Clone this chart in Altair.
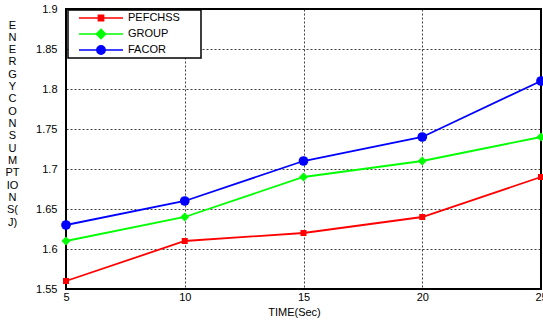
import altair as alt
import pandas as pd

times = [5, 10, 15, 20, 25]
series_names = ["PEFCHSS", "GROUP", "FACOR"]
pefchss = [1.56, 1.61, 1.62, 1.64, 1.69]
group = [1.61, 1.64, 1.69, 1.71, 1.74]
facor = [1.63, 1.66, 1.71, 1.74, 1.81]
y_ticks = [1.55, 1.6, 1.65, 1.7, 1.75, 1.8, 1.85, 1.9]
y_title_lines = ["E", "N", "E", "R", "G", "Y", "C", "O", "N", "S", "U", "M",
                 "PT", "IO", "N", "S(", "J)"]
x_title = "TIME(Sec)"

# styles
colors = ["#ff0000", "#00ff00", "#0000ff"]
marker_shapes = ["square", "diamond", "circle"]
marker_sizes = [36, 80, 95]
legend_paths = [
    "M-1,0H1M-0.12,-0.12H0.12V0.12H-0.12Z",
    "M-1,0H1M0,-0.21L0.21,0L0,0.21L-0.21,0Z",
    "M-1,0H1M0.19,0A0.19,0.19,0,1,1,-0.19,0A0.19,0.19,0,1,1,0.19,0Z",
]
FONT = "Liberation Sans"

rows = []
for name, vals in zip(series_names, [pefchss, group, facor]):
    for t, v in zip(times, vals):
        rows.append({"time": t, "value": v, "series": name})
df = pd.DataFrame(rows)

x = alt.X("time:Q",
          scale=alt.Scale(domain=[5, 25], nice=False, zero=False),
          axis=alt.Axis(values=times, title=x_title, format="d",
                        labelPadding=2, labelFlush=False, titleX=228, titleY=26,
                        titleAlign="center", titleBaseline="alphabetic",
                        titleAnchor="start"))
y = alt.Y("value:Q",
          scale=alt.Scale(domain=[1.55, 1.9], nice=False, zero=False),
          axis=alt.Axis(values=y_ticks, format=".3~g", title=y_title_lines,
                        labelPadding=9, labelFlush=False, titleAngle=0, titleAlign="center",
                        titleBaseline="alphabetic", titleX=-54, titleY=19,
                        titleLineHeight=12.33, titleAnchor="start"))

base = alt.Chart(df)

lines = base.mark_line(strokeWidth=1.8).encode(
    x=x, y=y,
    color=alt.Color("series:N", scale=alt.Scale(domain=series_names, range=colors), legend=None),
)

points = base.mark_point(filled=True, opacity=1).encode(
    x=x, y=y,
    color=alt.Color("series:N", scale=alt.Scale(domain=series_names, range=colors), legend=None),
    shape=alt.Shape("series:N", scale=alt.Scale(domain=series_names, range=marker_shapes), legend=None),
    size=alt.Size("series:N", scale=alt.Scale(type="ordinal", domain=series_names, range=marker_sizes), legend=None),
)

pad = "\u00a0" * 6 + "\u200b"
leg = alt.Legend(
    title=None, orient="none", legendX=2, legendY=1, padding=2,
    clipHeight=12, rowPadding=4, symbolOffset=8, labelOffset=4,
    symbolSize=1936, symbolStrokeWidth=1.5, symbolOpacity=1,
    strokeColor="black", fillColor="white",
    labelFont=FONT, labelFontSize=11, labelColor="black",
    labelExpr="datum.label + '" + pad + "'",
)

legend_layer = base.mark_point(filled=True, opacity=0).encode(
    x=x, y=y,
    fill=alt.Fill("series:N", scale=alt.Scale(domain=series_names, range=colors), legend=leg),
    stroke=alt.Stroke("series:N", scale=alt.Scale(domain=series_names, range=colors), legend=leg),
    shape=alt.Shape("series:N", scale=alt.Scale(domain=series_names, range=legend_paths), legend=leg),
)

chart = alt.layer(lines, points, legend_layer).resolve_scale(
    shape="independent", fill="independent", stroke="independent"
).properties(
    width=475, height=280,
    padding={"left": 66, "top": 9, "right": 2, "bottom": 31},
    autosize=alt.AutoSizeParams(type="none"),
    background="white",
).configure_view(
    stroke="black", strokeWidth=2
).configure_axis(
    labelFont=FONT, titleFont=FONT, labelFontSize=11, titleFontSize=11,
    titleFontWeight="normal", labelColor="black", titleColor="black",
    domain=False, ticks=False, gridColor="#000", gridDash=[2, 2],
    gridOpacity=0.75, gridWidth=1,
).configure_legend(
    strokeWidth=1.5
)

chart.save("out.html", embed_options={"renderer": "svg", "actions": False})
